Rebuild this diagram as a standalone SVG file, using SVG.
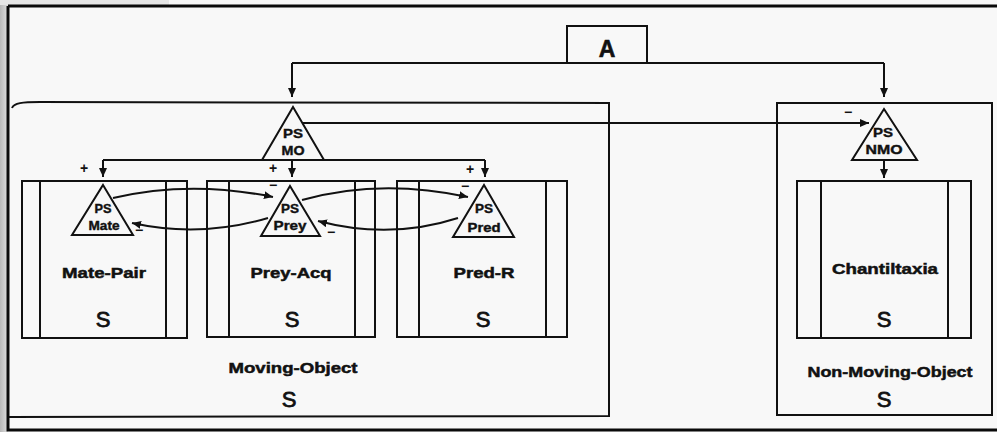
<svg xmlns="http://www.w3.org/2000/svg" width="997" height="432" viewBox="0 0 997 432">
<defs>
<linearGradient id="lg" x1="0" y1="0" x2="1" y2="0"><stop offset="0" stop-color="#b8b8b8"/><stop offset="1" stop-color="#dedede"/></linearGradient>
<marker id="ah" markerUnits="userSpaceOnUse" markerWidth="10" markerHeight="8" refX="9" refY="4" orient="auto"><path d="M0,0 L9,4 L0,8 z" fill="#111"/></marker>
</defs>
<style>
.ln{fill:none;stroke:#111;stroke-width:2}
.bx{fill:none;stroke:#111;stroke-width:2}
.tri{fill:#f7f7f7;stroke:#111;stroke-width:2;stroke-linejoin:miter}
.lb{font-family:"Liberation Sans",Arial,sans-serif;font-weight:bold;font-size:15px;fill:#111;text-anchor:middle;stroke:#111;stroke-width:0.5}
.tl{font-family:"Liberation Sans",Arial,sans-serif;font-weight:bold;font-size:12.5px;fill:#111;text-anchor:middle;stroke:#111;stroke-width:0.4}
.s{font-family:"Liberation Sans",Arial,sans-serif;font-size:22px;fill:#111;text-anchor:middle;stroke:#111;stroke-width:0.8}
.sg{font-family:"Liberation Sans",Arial,sans-serif;font-weight:bold;font-size:14px;fill:#111;text-anchor:middle}
</style>
<rect x="0" y="0" width="997" height="432" fill="#f8f8f8"/>
<rect x="0" y="0" width="8" height="432" fill="url(#lg)"/>
<rect x="0" y="0" width="169" height="5" fill="#e6e6e6"/>
<path d="M8,6 L997,6 M8,6 L8,430 L997,430" fill="none" stroke="#0a0a0a" stroke-width="3"/>

<g id="A">
<rect x="567" y="26" width="80" height="37" class="bx"/>
<text x="607" y="57" font-family="'Liberation Sans',Arial,sans-serif" font-weight="bold" font-size="23" fill="#111" stroke="#111" stroke-width="0.6" text-anchor="middle">A</text>
</g>

<g id="moving-object">
<path d="M12,108 C14,103 22,102 40,102 L609,103 L609,416 L9,417" class="bx"/>
<text x="293" y="373" class="lb" textLength="129" lengthAdjust="spacingAndGlyphs">Moving-Object</text>
<text x="289" y="407" class="s">S</text>
</g>

<g id="non-moving-object">
<rect x="777" y="103" width="215" height="312" class="bx"/>
<text x="890" y="377" class="lb" textLength="165" lengthAdjust="spacingAndGlyphs">Non-Moving-Object</text>
<text x="884" y="407" class="s">S</text>
</g>

<g id="mate-pair">
<rect x="22" y="181" width="165" height="157" class="bx"/>
<path d="M40,181 V338 M166,181 V338" class="ln"/>
<text x="104" y="278" class="lb" textLength="84" lengthAdjust="spacingAndGlyphs">Mate-Pair</text>
<text x="103" y="327" class="s">S</text>
</g>

<g id="prey-acq">
<rect x="207" y="181" width="168" height="156" class="bx"/>
<path d="M229,181 V337 M355,181 V337" class="ln"/>
<text x="291" y="278" class="lb" textLength="81" lengthAdjust="spacingAndGlyphs">Prey-Acq</text>
<text x="292" y="327" class="s">S</text>
</g>

<g id="pred-r">
<rect x="397" y="181" width="170" height="156" class="bx"/>
<path d="M419,181 V337 M546,181 V337" class="ln"/>
<text x="484" y="278" class="lb" textLength="61" lengthAdjust="spacingAndGlyphs">Pred-R</text>
<text x="483" y="327" class="s">S</text>
</g>

<g id="chantiltaxia">
<rect x="797" y="181" width="174" height="157" class="bx"/>
<path d="M821,181 V338 M948,181 V338" class="ln"/>
<text x="885" y="274" class="lb" textLength="106" lengthAdjust="spacingAndGlyphs">Chantiltaxia</text>
<text x="884" y="327" class="s">S</text>
</g>

<g id="ps-mo">
<polygon points="293,107 324,160 262,160" class="tri"/>
<text x="293" y="138" class="tl" textLength="20" lengthAdjust="spacingAndGlyphs">PS</text>
<text x="293" y="155" class="tl" textLength="23" lengthAdjust="spacingAndGlyphs">MO</text>
</g>

<g id="ps-nmo">
<polygon points="884,109 917,160 852,160" class="tri"/>
<text x="883" y="137" class="tl" textLength="20" lengthAdjust="spacingAndGlyphs">PS</text>
<text x="884" y="154" class="tl" textLength="37" lengthAdjust="spacingAndGlyphs">NMO</text>
</g>

<g id="ps-mate">
<polygon points="103,185 133,235 72,235" class="tri"/>
<text x="103" y="213" class="tl" textLength="17" lengthAdjust="spacingAndGlyphs">PS</text>
<text x="104" y="230" class="tl" textLength="31" lengthAdjust="spacingAndGlyphs">Mate</text>
</g>

<g id="ps-prey">
<polygon points="290,186 320,236 261,236" class="tri"/>
<text x="290" y="213" class="tl" textLength="18" lengthAdjust="spacingAndGlyphs">PS</text>
<text x="290" y="230" class="tl" textLength="33" lengthAdjust="spacingAndGlyphs">Prey</text>
</g>

<g id="ps-pred">
<polygon points="484,185 514,237 453,237" class="tri"/>
<text x="484" y="213" class="tl" textLength="18" lengthAdjust="spacingAndGlyphs">PS</text>
<text x="484" y="232" class="tl" textLength="33" lengthAdjust="spacingAndGlyphs">Pred</text>
</g>

<g id="connectors">
<path d="M292,63 H884" class="ln"/>
<path d="M292,63 V97" class="ln" marker-end="url(#ah)"/>
<path d="M884,63 V97" class="ln" marker-end="url(#ah)"/>
<path d="M303,123 H869" class="ln" marker-end="url(#ah)"/>
<path d="M103,160 H485" class="ln"/>
<path d="M103,160 V177" class="ln" marker-end="url(#ah)"/>
<path d="M292,160 V177" class="ln" marker-end="url(#ah)"/>
<path d="M485,160 V177" class="ln" marker-end="url(#ah)"/>
<path d="M884,160 V178" class="ln" marker-end="url(#ah)"/>
<path d="M113,198 Q190,180 273,197" class="ln" marker-end="url(#ah)"/>
<path d="M268,218 Q200,238 132,223" class="ln" marker-end="url(#ah)"/>
<path d="M302,200 Q380,178 468,197" class="ln" marker-end="url(#ah)"/>
<path d="M458,218 Q390,240 318,221" class="ln" marker-end="url(#ah)"/>
<text x="84" y="173" class="sg">+</text>
<text x="273" y="173" class="sg">+</text>
<text x="470" y="174" class="sg">+</text>
<text x="848" y="117" class="sg">−</text>
<text x="273" y="190" class="sg">−</text>
<text x="139" y="235" class="sg">−</text>
<text x="331" y="237" class="sg">−</text>
<text x="465" y="191" class="sg">−</text>
</g>
</svg>
